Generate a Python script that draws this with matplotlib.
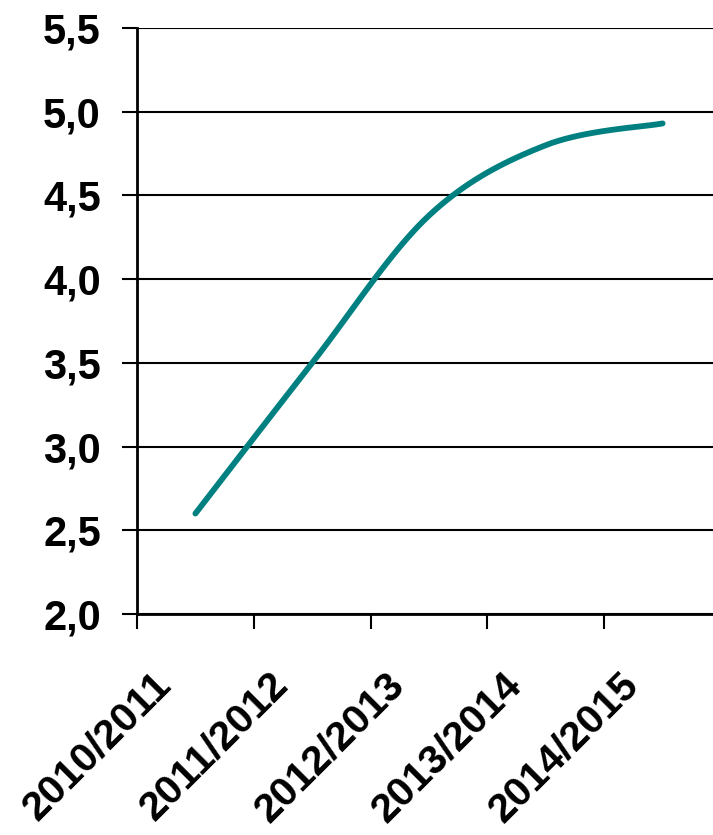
import matplotlib.pyplot as plt
import matplotlib.transforms as mtransforms
import numpy as np

seasons = ['2010/2011', '2011/2012', '2012/2013', '2013/2014', '2014/2015']
values = [2.6, 3.5, 4.38, 4.8, 4.93]
yticks = [2.0, 2.5, 3.0, 3.5, 4.0, 4.5, 5.0, 5.5]


def smooth(x, y, n=20):
    # Catmull-Rom spline, like Excel's smoothed line
    x = np.asarray(x, float)
    y = np.asarray(y, float)
    px = np.concatenate([[x[0]], x, [x[-1]]])
    py = np.concatenate([[y[0]], y, [y[-1]]])
    xs, ys = [], []
    for i in range(1, len(px) - 2):
        t = np.linspace(0, 1, n, endpoint=False)
        for p, out in ((px, xs), (py, ys)):
            p0, p1, p2, p3 = p[i - 1], p[i], p[i + 1], p[i + 2]
            out.extend(0.5 * (2 * p1 + (-p0 + p2) * t
                              + (2 * p0 - 5 * p1 + 4 * p2 - p3) * t ** 2
                              + (-p0 + 3 * p1 - 3 * p2 + p3) * t ** 3))
    xs.append(x[-1])
    ys.append(y[-1])
    return np.array(xs), np.array(ys)


plt.rcParams['font.family'] = ['Liberation Sans', 'DejaVu Sans']

fig = plt.figure(figsize=(7.13, 8.35), dpi=100)
ax = fig.add_axes([137 / 713, 1 - 614 / 835, 584 / 713, 586 / 835])

x = np.arange(len(seasons)) + 0.5
sx, sy = smooth(x, values)
ax.plot(sx, sy, color='#008080', lw=4.2, solid_capstyle='round', zorder=3)

ax.set_xlim(0, len(seasons))
ax.set_ylim(2.0, 5.5)
ax.set_yticks(yticks)
ax.set_yticklabels([f'{v:.1f}'.replace('.', ',') for v in yticks],
                   fontsize=30, fontweight='bold')
ax.set_xticks(np.arange(len(seasons) + 1))
ax.set_xticklabels([])
ax.set_xticks(x, minor=True)
ax.set_xticklabels(seasons, minor=True, rotation=45, ha='right',
                   rotation_mode='anchor', fontsize=29.5, fontweight='bold')
ax.tick_params(axis='x', which='minor', length=0, pad=37)
ax.tick_params(axis='both', which='major', length=11, width=1.5,
               direction='out', color='black')
ax.tick_params(axis='y', pad=15)

# Excel places the rotated labels left of the category centre
shift = mtransforms.ScaledTranslation(-0.44, 0, fig.dpi_scale_trans)
for lab in ax.get_xticklabels(minor=True):
    lab.set_transform(lab.get_transform() + shift)

ax.grid(axis='y', color='black', lw=1.5)
ax.set_axisbelow(True)
for s in ['top', 'right']:
    ax.spines[s].set_visible(False)
for s in ['left', 'bottom']:
    ax.spines[s].set_linewidth(2)
    ax.spines[s].set_zorder(4)

plt.savefig('out.png', dpi=100)
